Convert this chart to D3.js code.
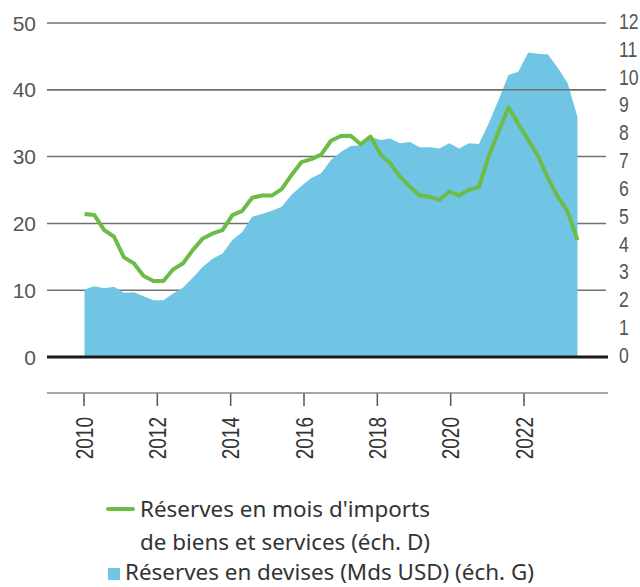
<!DOCTYPE html>
<html>
<head>
<meta charset="utf-8">
<script src="https://cdn.jsdelivr.net/npm/d3@7/dist/d3.min.js"></script>
<style>
  html, body { margin: 0; padding: 0; background: #fff; }
  svg { display: block; }
</style>
</head>
<body>
<svg id="chart" width="640" height="587"></svg>
<script>
// ---- Data ----
const quarters = [];
for (let y = 2010; y <= 2022; y++) for (let q = 1; q <= 4; q++) if (!(y === 2022 && q === 4)) quarters.push(y + "T" + q);

// Réserves en devises (Mds USD), left scale
const reservesUSD = [10.1, 10.6, 10.3, 10.5, 9.6, 9.7, 9.1, 8.5, 8.5, 9.5,
  10.4, 11.9, 13.5, 14.7, 15.5, 17.5, 18.7, 21.0, 21.4, 21.9,
  22.5, 24.3, 25.6, 26.8, 27.5, 29.5, 30.7, 31.6, 31.7, 33.0,
  32.5, 32.7, 32.0, 32.2, 31.4, 31.4, 31.2, 32.0, 31.2, 32.0,
  31.9, 35.0, 38.5, 42.2, 42.7, 45.6, 45.4, 45.3, 43.3, 41.0, 35.9];

// Réserves en mois d'imports de biens et services, right scale
const reservesMonths = [5.14, 5.10, 4.56, 4.32, 3.58, 3.37, 2.91, 2.73, 2.73, 3.15,
  3.37, 3.85, 4.26, 4.44, 4.56, 5.10, 5.25, 5.72, 5.80, 5.80,
  6.03, 6.54, 7.00, 7.11, 7.27, 7.77, 7.94, 7.95, 7.64, 7.92,
  7.29, 6.96, 6.48, 6.12, 5.80, 5.76, 5.64, 5.95, 5.80, 6.01,
  6.10, 7.22, 8.10, 8.97, 8.37, 7.80, 7.22, 6.42, 5.76, 5.22, 4.20];

const yearTicks = [2010, 2012, 2014, 2016, 2018, 2020, 2022];
const leftTicks = [0, 10, 20, 30, 40, 50];
const rightTicks = [0, 1, 2, 3, 4, 5, 6, 7, 8, 9, 10, 11, 12];

const legendLabels = ["Réserves en mois d'imports", "de biens et services (éch. D)", "Réserves en devises (Mds USD) (éch. G)"];

// ---- Layout ----
const svg = d3.select("#chart");
const plotLeft = 47, plotRight = 606, yTop = 23, yZero = 357;
const colArea = "#70c5e5", colLine = "#6cbd48";
const tickFont = "'Liberation Sans', Arial, sans-serif";

const xIdx = d3.scaleLinear().domain([0, quarters.length - 1]).range([84.5, 577.5]);
const xYear = d3.scaleLinear().domain([2010, 2022]).range([83.5, 523.5]);
const yL = d3.scaleLinear().domain([0, 50]).range([yZero, yTop]);
const yR = d3.scaleLinear().domain([0, 12]).range([yZero, yTop]);

// grid lines (left scale)
svg.append("g").selectAll("line").data(leftTicks.filter(d => d > 0)).join("line")
  .attr("x1", plotLeft).attr("x2", plotRight)
  .attr("y1", d => yL(d)).attr("y2", d => yL(d))
  .attr("stroke", "#707070").attr("stroke-width", 1.5);

// area
const area = d3.area().x((d, i) => xIdx(i)).y0(yL(0)).y1(d => yL(d));
svg.append("path").datum(reservesUSD).attr("d", area).attr("fill", colArea);

// 40 grid line visible above area
svg.append("line").attr("x1", plotLeft).attr("x2", plotRight)
  .attr("y1", yL(40)).attr("y2", yL(40)).attr("stroke", "#707070").attr("stroke-width", 1.5);

// zero line
svg.append("line").attr("x1", plotLeft).attr("x2", 608)
  .attr("y1", yL(0)).attr("y2", yL(0)).attr("stroke", "#1a1a1a").attr("stroke-width", 3);

// line
const line = d3.line().x((d, i) => xIdx(i)).y(d => yR(d));
svg.append("path").datum(reservesMonths).attr("d", line)
  .attr("fill", "none").attr("stroke", colLine).attr("stroke-width", 4)
  .attr("stroke-linejoin", "round").attr("stroke-linecap", "butt");

// left axis labels
svg.append("g").selectAll("text").data(leftTicks).join("text")
  .attr("x", 36).attr("y", d => yL(d)).attr("dy", "0.36em")
  .attr("text-anchor", "end").attr("font-family", tickFont).attr("font-size", 21)
  .attr("fill", "#555").text(d => d);

// right axis labels (slightly condensed)
svg.append("g").selectAll("text").data(rightTicks).join("text")
  .attr("transform", d => `translate(619,${yR(d) - 2}) scale(0.8,1)`)
  .attr("dy", "0.36em")
  .attr("text-anchor", "start").attr("font-family", tickFont).attr("font-size", 22)
  .attr("fill", "#555").text(d => d);

// bottom axis
const xAxis = d3.axisBottom(xYear).tickValues(yearTicks).tickSize(13).tickPadding(0).tickFormat(d3.format("d"));
const gx = svg.append("g").attr("transform", "translate(0,393)").call(xAxis);
gx.select(".domain").remove();
gx.append("line").attr("x1", plotLeft).attr("x2", 608).attr("y1", 0).attr("y2", 0)
  .attr("stroke", "#888").attr("stroke-width", 1.5);
gx.selectAll(".tick line").attr("stroke", "#555").attr("stroke-width", 1.5);
gx.selectAll(".tick text")
  .attr("transform", "rotate(-90) scale(1,1.25)")
  .attr("x", -24).attr("y", 0).attr("dy", "0.36em")
  .attr("text-anchor", "end")
  .attr("font-family", tickFont).attr("font-size", 19).attr("fill", "#333");

// legend
const lg = svg.append("g");
lg.append("line").attr("x1", 108).attr("x2", 133).attr("y1", 509).attr("y2", 509)
  .attr("stroke", colLine).attr("stroke-width", 4).attr("stroke-linecap", "round");
lg.append("rect").attr("x", 108).attr("y", 568).attr("width", 12).attr("height", 12).attr("fill", colArea);
const legPos = [[140, 517], [140, 550], [125, 580]];
const legTexts = lg.selectAll("text").data(legendLabels).join("text")
  .attr("x", (d, i) => legPos[i][0]).attr("y", (d, i) => legPos[i][1])
  .attr("font-family", "'Noto Sans', 'Open Sans', sans-serif").attr("font-size", 20)
  .attr("fill", "#333").text(d => d);
// fit to reference width of first line (~290px)
const w0 = legTexts.nodes()[0].getComputedTextLength();
legTexts.attr("font-size", 20 * 290 / w0);
</script>
</body>
</html>
